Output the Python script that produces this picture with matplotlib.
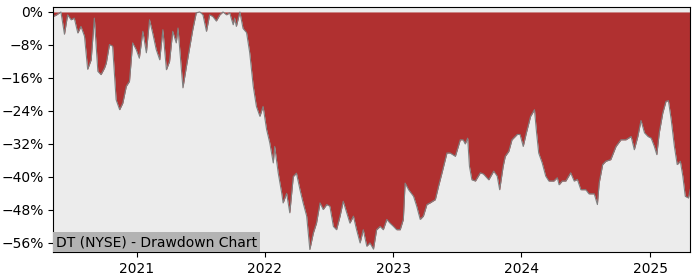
"""
DT (NYSE) drawdown chart
"""
import pandas as pd
import matplotlib
matplotlib.use("Agg")
import matplotlib.pyplot as plt
import matplotlib.dates as mdates
from matplotlib.ticker import PercentFormatter

# 回撤数据 (%)，按日期
dates = [
    "2020-05-09", "2020-05-17", "2020-05-31", "2020-06-10", "2020-06-19", "2020-06-29",
    "2020-07-08", "2020-07-18", "2020-07-27", "2020-08-06", "2020-08-15", "2020-08-25",
    "2020-09-03", "2020-09-13", "2020-09-22", "2020-10-02", "2020-10-07", "2020-10-16",
    "2020-10-25", "2020-11-04", "2020-11-14", "2020-11-23", "2020-12-03", "2020-12-12",
    "2020-12-21", "2020-12-31",
    "2021-01-09", "2021-01-19", "2021-01-29", "2021-02-07", "2021-02-16", "2021-02-26",
    "2021-03-08", "2021-03-17", "2021-03-27", "2021-04-05", "2021-04-14", "2021-04-24",
    "2021-04-29", "2021-05-13", "2021-05-23", "2021-06-01", "2021-06-10", "2021-06-20",
    "2021-06-30", "2021-07-09", "2021-07-19", "2021-07-28", "2021-08-06", "2021-08-16",
    "2021-08-26", "2021-09-04", "2021-09-14", "2021-09-23", "2021-10-03", "2021-10-07",
    "2021-10-12", "2021-10-22", "2021-10-31", "2021-11-10", "2021-11-19", "2021-11-29",
    "2021-12-08", "2021-12-18", "2021-12-27",
    "2022-01-06", "2022-01-15", "2022-01-25", "2022-01-29", "2022-02-08", "2022-02-18",
    "2022-02-22", "2022-03-04", "2022-03-13", "2022-03-23", "2022-04-01", "2022-04-11",
    "2022-04-20", "2022-04-30", "2022-05-09", "2022-05-19", "2022-05-28", "2022-06-07",
    "2022-06-16", "2022-06-26", "2022-07-05", "2022-07-15", "2022-07-24", "2022-08-03",
    "2022-08-12", "2022-08-22", "2022-08-31", "2022-09-10", "2022-09-19", "2022-09-29",
    "2022-10-08", "2022-10-18", "2022-10-27", "2022-11-06", "2022-11-15", "2022-11-25",
    "2022-12-04", "2022-12-14", "2022-12-23",
    "2023-01-02", "2023-01-11", "2023-01-21", "2023-01-30", "2023-02-04", "2023-02-14",
    "2023-02-28", "2023-03-09", "2023-03-19", "2023-03-28", "2023-04-07", "2023-04-16",
    "2023-05-01", "2023-05-10", "2023-05-20", "2023-06-03", "2023-06-12", "2023-06-27",
    "2023-07-11", "2023-07-19", "2023-07-25", "2023-08-01", "2023-08-06", "2023-08-13",
    "2023-08-23", "2023-09-06", "2023-09-15", "2023-09-30", "2023-10-14", "2023-10-24",
    "2023-10-31", "2023-11-10", "2023-11-16", "2023-11-26", "2023-12-05", "2023-12-20",
    "2023-12-28",
    "2024-01-06", "2024-01-15", "2024-01-27", "2024-02-07", "2024-02-13", "2024-02-19",
    "2024-02-29", "2024-03-10", "2024-03-19", "2024-04-02", "2024-04-12", "2024-04-17",
    "2024-04-26", "2024-05-06", "2024-05-20", "2024-05-30", "2024-06-08", "2024-06-18",
    "2024-07-02", "2024-07-11", "2024-07-26", "2024-08-04", "2024-08-09", "2024-08-19",
    "2024-08-28", "2024-09-11", "2024-09-26", "2024-10-10", "2024-10-24", "2024-11-08",
    "2024-11-17", "2024-11-27", "2024-12-06", "2024-12-16", "2024-12-26",
    "2025-01-04", "2025-01-13", "2025-01-20", "2025-01-27", "2025-02-06", "2025-02-15",
    "2025-02-22", "2025-03-02", "2025-03-11", "2025-03-19", "2025-03-28", "2025-04-04",
    "2025-04-11", "2025-04-20", "2025-04-25",
]
drawdown = [
    -1.1, -0.8, 0.0, -5.4, -0.7, -1.9,
    -1.5, -5.1, -3.5, -5.9, -13.9, -11.6,
    -1.5, -14.4, -15.2, -13.6, -12.4, -7.9,
    -8.3, -21.3, -23.7, -22.1, -18.0, -16.8,
    -7.5, -9.1,
    -11.2, -4.7, -9.9, -1.9, -5.1, -9.1,
    -11.6, -4.3, -14.0, -12.0, -4.7, -7.5,
    -3.9, -18.4, -13.2, -8.7, -4.3, -0.2,
    0.0, -0.7, -4.7, -0.7, -1.1, -2.2,
    -0.7, 0.0, -0.7, -0.2, -3.1, -1.5,
    -3.5, 0.0, -4.0, -5.0, -9.9, -18.0,
    -22.9, -25.3, -22.9,
    -28.5, -31.7, -36.6, -32.6, -39.0, -43.9,
    -46.3, -44.0, -48.7, -39.9, -39.1, -43.1,
    -46.3, -49.5, -57.6, -53.6, -51.2, -46.3,
    -47.9, -46.7, -47.1, -52.0, -52.8, -49.5,
    -45.9, -48.7, -51.2, -49.5, -52.8, -56.0,
    -52.8, -56.8, -56.0, -57.5, -52.8, -52.0,
    -52.8, -50.3, -51.2,
    -52.0, -52.8, -52.8, -50.3, -41.5, -43.1,
    -44.7, -47.1, -50.3, -49.5, -46.7, -46.3,
    -45.5, -42.3, -39.0, -34.2, -34.2, -35.0,
    -31.0, -31.0, -32.0, -30.6, -37.4, -40.7,
    -41.0, -39.0, -39.3, -40.7, -38.6, -39.8,
    -43.1, -37.4, -35.0, -33.8, -31.0, -29.7,
    -29.7,
    -32.6, -29.3, -25.3, -23.7, -29.3, -34.2,
    -36.6, -39.8, -41.0, -41.0, -40.2, -41.9,
    -41.0, -41.0, -39.0, -41.0, -40.6, -43.1,
    -43.1, -44.1, -44.1, -46.7, -41.5, -37.0,
    -36.2, -35.8, -32.6, -31.0, -31.0, -30.2,
    -33.4, -30.2, -26.3, -29.3, -30.2,
    -30.6, -32.6, -34.6, -29.3, -24.5, -21.7,
    -21.5, -26.1, -32.6, -37.0, -36.2, -39.8,
    -44.7, -45.1, -43.0,
]
y_ticks = [0, -8, -16, -24, -32, -40, -48, -56]
title = "DT (NYSE) - Drawdown Chart"

x = pd.to_datetime(dates)

fig = plt.figure(figsize=(7, 2.8), dpi=100)
ax = fig.add_axes([0.076, 0.1, 0.91, 0.875])
ax.set_facecolor("#ececec")

ax.fill_between(x, drawdown, 0, color="#b03030", linewidth=0)
ax.plot(x, drawdown, color="#808080", linewidth=0.8)

ax.set_xlim(x[0], x[-1])
ax.set_ylim(-58.2, 1.2)
ax.set_yticks(y_ticks)
ax.yaxis.set_major_formatter(PercentFormatter(decimals=0))
ax.xaxis.set_major_locator(mdates.YearLocator())
ax.xaxis.set_major_formatter(mdates.DateFormatter("%Y"))

ax.text(0.004, 0.012, title, transform=ax.transAxes, fontsize=10,
        ha="left", va="bottom",
        bbox=dict(facecolor="#b3b3b3", edgecolor="none", pad=2))

plt.savefig("out.png", dpi=100)
plt.close()
